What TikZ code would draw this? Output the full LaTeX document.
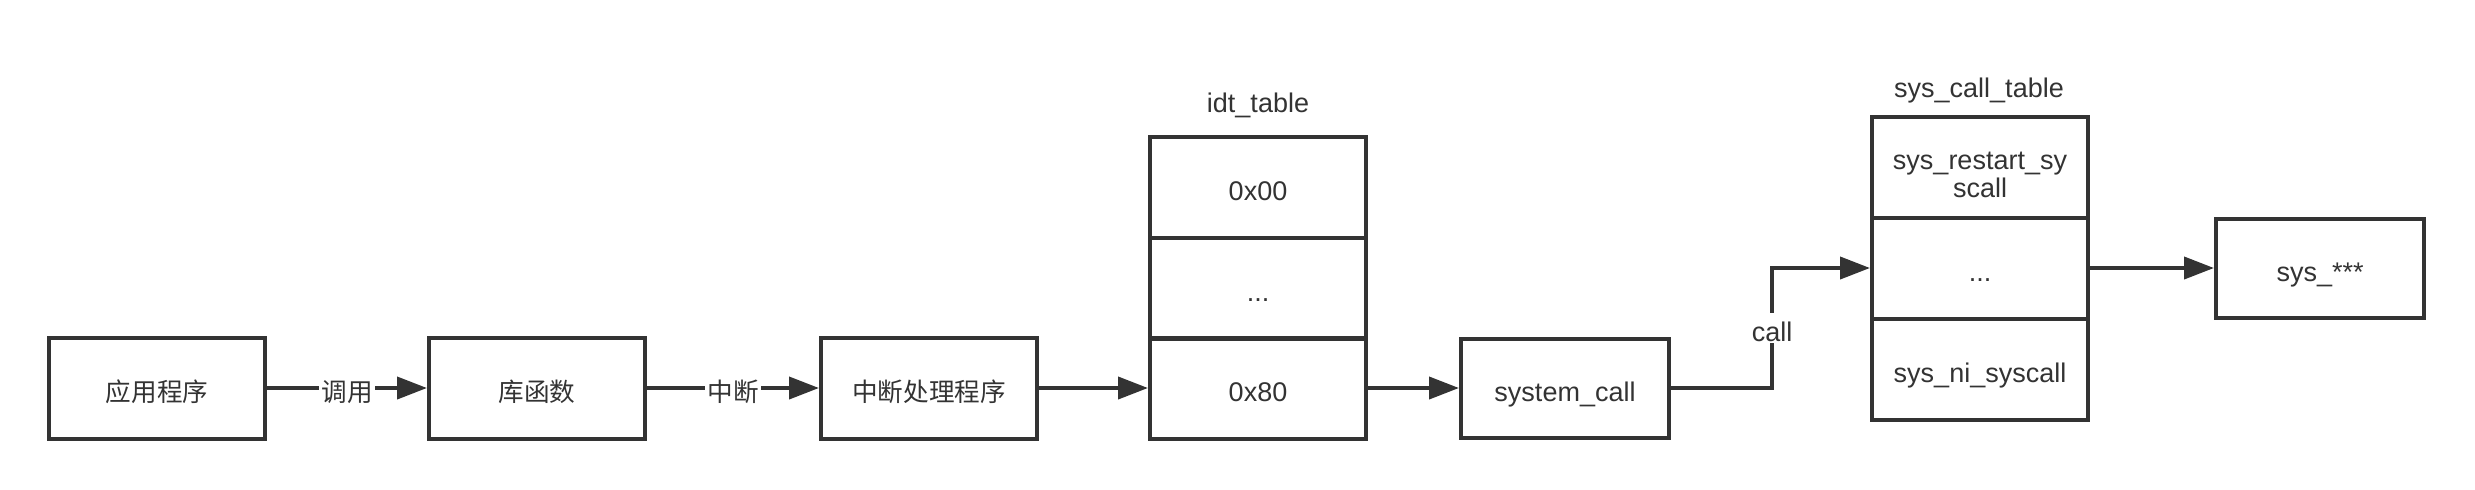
\documentclass[tikz,border=0pt]{standalone}
\usepackage{fontspec}
\setmainfont{Liberation Sans}
\newfontfamily\cjk{Noto Sans CJK SC}
\newcommand\zh{\cjk\fontsize{12.8}{13.5}\selectfont}
\usetikzlibrary{arrows.meta}
\definecolor{ink}{HTML}{333333}

\begin{document}
\begin{tikzpicture}[x=0.5pt,y=-0.5pt,line width=2pt,draw=ink,text=ink,
		font=\fontsize{13.5}{13.5}\selectfont,
		box/.style={draw,minimum width=108pt,minimum height=50.5pt,inner sep=0pt,
			text height=13pt,text depth=0pt},
		sbox/.style={box,minimum width=104pt,minimum height=49.5pt},
		arr/.style={-{Triangle[length=15pt,width=11pt]}},
		lbl/.style={fill=white,inner sep=1pt,text height=13pt,text depth=0pt}]
	\useasboundingbox (0,0) rectangle (2475,489);
	% call chain
	\node[box] (app) at (157,388) {\zh 应用程序};
	\node[box] (lib) at (537,388) {\zh 库函数};
	\node[box] (isr) at (929,388) {\zh 中断处理程序};
	% idt_table
	\node[anchor=base] (idtname) at (1258,112) {idt\_table};
	\node[box] (idt-1) at (1258,187) {0x00};
	\node[box] (idt-2) at (1258,288) {...};
	\node[box] (idt-3) at (1258,388) {0x80};
	\node[sbox] (sc) at (1565,388) {system\_call};
	% sys_call_table
	\node[anchor=base] (sctname) at (1979,97) {sys\_call\_table};
	\node[box,text depth=10.5pt] (sct-1) at (1980,167)
		{\begin{tabular}[t]{@{}c@{}}sys\_restart\_sy\\scall\end{tabular}};
	\node[box] (sct-2) at (1980,268) {...};
	\node[box] (sct-3) at (1980,369) {sys\_ni\_syscall};
	\node[sbox] (sysx) at (2320,268) {sys\_***};
	% arrows
	\draw[arr] (app) -- (lib) node[midway,lbl]{\zh 调用};
	\draw[arr] (lib) -- (isr) node[midway,lbl]{\zh 中断};
	\draw[arr] (isr) -- (idt-3);
	\draw[arr] (idt-3) -- (sc);
	\draw[arr] (sc.east) -- ++(101,0) |- (sct-2.west) node[pos=0.25,lbl]{call};
	\draw[arr] (sct-2) -- (sysx);
\end{tikzpicture}
\end{document}
